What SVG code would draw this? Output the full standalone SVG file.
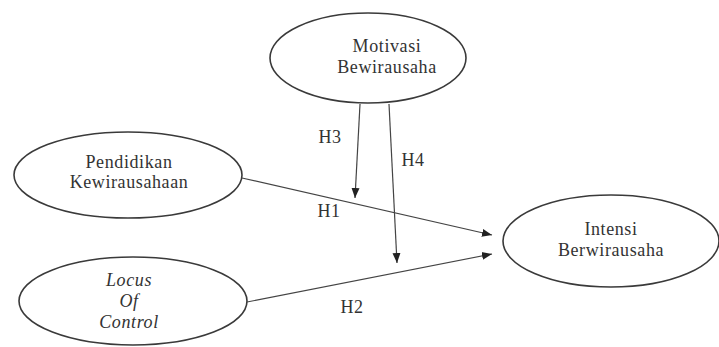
<svg xmlns="http://www.w3.org/2000/svg" width="719" height="347" viewBox="0 0 719 347">
<style>
.node ellipse{fill:#fff;stroke:#3a3a3a;stroke-width:1.6}
text{font-family:"Liberation Serif","Times New Roman",serif;font-size:18px;fill:#333;text-anchor:middle;letter-spacing:0.6px}
.it{font-style:italic}
.conn line{stroke:#444;stroke-width:1.2}
</style>
<defs>
<marker id="ah" markerUnits="userSpaceOnUse" markerWidth="10" markerHeight="10" viewBox="0 0 10 10" refX="10" refY="5" orient="auto">
<path d="M0,1 L10,5 L0,9 Z" fill="#222"/>
</marker>
</defs>
<rect width="719" height="347" fill="#fff"/>
<g id="motivasi" class="node">
<ellipse cx="368" cy="58" rx="98" ry="45"/>
<text x="387" y="52">Motivasi</text>
<text x="387" y="73">Bewirausaha</text>
</g>
<g id="pendidikan" class="node">
<ellipse cx="128" cy="175" rx="114" ry="43"/>
<text x="129" y="168">Pendidikan</text>
<text x="129" y="188">Kewirausahaan</text>
</g>
<g id="locus" class="node">
<ellipse cx="133" cy="301" rx="114" ry="44"/>
<text class="it" x="129" y="286">Locus</text>
<text class="it" x="129" y="307">Of</text>
<text class="it" x="129" y="328">Control</text>
</g>
<g id="intensi" class="node">
<ellipse cx="611" cy="241" rx="108" ry="46"/>
<text x="611" y="235">Intensi</text>
<text x="611" y="256">Berwirausaha</text>
</g>
<g id="connectors" class="conn">
<line x1="242" y1="178" x2="492" y2="235" marker-end="url(#ah)"/>
<line x1="247" y1="302" x2="492" y2="254" marker-end="url(#ah)"/>
<line x1="360" y1="104" x2="355" y2="198" marker-end="url(#ah)"/>
<line x1="389" y1="104" x2="397" y2="263" marker-end="url(#ah)"/>
</g>
<g id="labels">
<text x="330" y="143">H3</text>
<text x="413" y="166">H4</text>
<text x="329" y="217">H1</text>
<text x="352" y="313">H2</text>
</g>
</svg>
